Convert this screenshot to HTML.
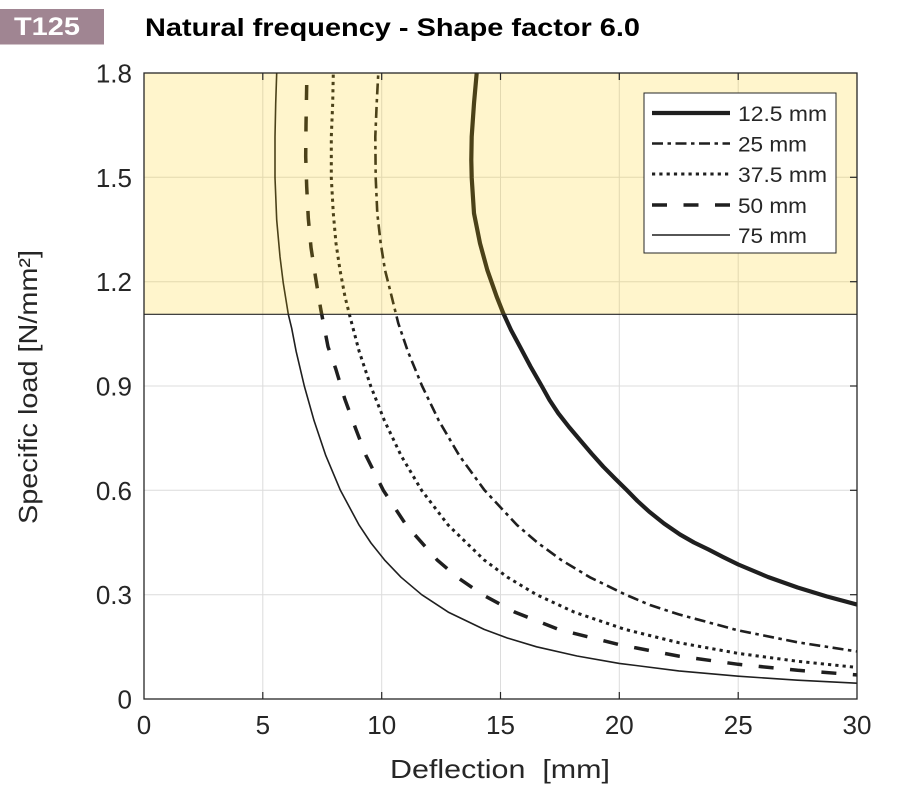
<!DOCTYPE html>
<html>
<head>
<meta charset="utf-8">
<style>
  html, body { margin: 0; padding: 0; background: #ffffff; }
  svg { display: block; }
  text { font-family: "Liberation Sans", Arial, sans-serif; fill: #262626; }
</style>
</head>
<body>
<svg width="920" height="800" viewBox="0 0 920 800" xmlns="http://www.w3.org/2000/svg">
  <defs>
    <clipPath id="plot">
      <rect x="144" y="73" width="713" height="626"/>
    </clipPath>
  </defs>

  <!-- Badge -->
  <rect x="0" y="9" width="104" height="35.5" fill="#a08592"/>
  <text x="14" y="35" font-size="25" font-weight="bold" style="fill:#ffffff" textLength="66" lengthAdjust="spacingAndGlyphs">T125</text>

  <!-- Title -->
  <text x="145" y="36" font-size="25" font-weight="bold" style="fill:#000000" textLength="495" lengthAdjust="spacingAndGlyphs">Natural frequency - Shape factor 6.0</text>

  <!-- Plot background -->
  <rect x="144" y="73" width="713" height="626" fill="#ffffff"/>

  <!-- Grid -->
  <g stroke="#dcdcdc" stroke-width="1">
    <line x1="262.8" y1="73" x2="262.8" y2="699"/>
    <line x1="381.7" y1="73" x2="381.7" y2="699"/>
    <line x1="500.5" y1="73" x2="500.5" y2="699"/>
    <line x1="619.3" y1="73" x2="619.3" y2="699"/>
    <line x1="738.2" y1="73" x2="738.2" y2="699"/>
    <line x1="144" y1="177.3" x2="857" y2="177.3"/>
    <line x1="144" y1="281.7" x2="857" y2="281.7"/>
    <line x1="144" y1="386" x2="857" y2="386"/>
    <line x1="144" y1="490.3" x2="857" y2="490.3"/>
    <line x1="144" y1="594.7" x2="857" y2="594.7"/>
  </g>

  <!-- Curves -->
  <g clip-path="url(#plot)" fill="none" stroke="#1f1f1f" stroke-linejoin="round">
    <!-- 12.5 mm -->
    <polyline stroke-width="4.2" points="477.5,60 476.7,73 474,103.3 471.7,136.7 471.3,160 471.7,177.7 474,213.3 480,243.3 487.3,270 496.7,296.7 503.3,313.3 511,330 520,346.7 530.5,366.5 541.7,386 549.5,400 558.3,413.3 569,427 580,440 591.5,453.5 603.3,466.7 615,478.5 626.7,490 637.5,501 649,511.5 664,523.5 680,534.5 694,542.5 708.5,549.5 723,557 738.3,564.5 768,577 797.6,587.5 827,596.5 856.7,604.5 862,605.8"/>
    <!-- 25 mm -->
    <polyline stroke-width="2.6" stroke-dasharray="11 4.5 3.5 4.5" points="379,60 378.3,73 376.7,103.3 375.3,136.7 375.7,177.7 377.3,213.3 380.7,243.3 385,270 391.7,296.7 398.3,323.3 407.8,351.2 422.1,386 438.9,420.8 459.3,455.6 484.6,490.3 517.1,525.1 537.3,542.5 561.1,559.9 589.9,577.3 625.7,594.7 650,605 678.8,614.4 738.2,630.4 797.6,642.3 856.7,651.4 862,652.2"/>
    <!-- 37.5 mm -->
    <polyline stroke-width="3" stroke-dasharray="3.2 4.1" points="333.5,60 333.3,73 332.7,103.3 331.3,136.7 331.3,177.7 333.3,213.3 336,243.3 340,270 345,296.7 350,316.7 359.1,351.2 370.7,386 384.5,420.8 401.1,455.6 421.6,490.3 448.2,525.1 484.1,559.9 507.6,577.3 536.6,594.7 574.2,612.1 625,629.4 678.8,642.7 738.2,653.4 797.6,661.3 856.7,667.4 862,667.9"/>
    <!-- 50 mm -->
    <polyline stroke-width="3.5" stroke-dasharray="15 16.5" stroke-dashoffset="6.5" points="306.7,60 306.7,73 306.7,85 306,125 305.7,156.7 306.7,186.7 308.3,218.3 311,247.5 315.7,278.3 320.7,309 328,346.7 335.8,369 344.8,399 355.8,429 366,455.6 383.3,490.3 406.2,525.1 437.1,559.9 457.3,577.3 482.5,594.7 514.8,612.1 558.5,629.4 619.3,644.7 678.8,656.1 738.2,664.3 797.6,670.3 856.7,674.9 862,675.3"/>
    <!-- 75 mm -->
    <polyline stroke-width="1.6" points="276.8,60 276.7,73 275.7,103.3 275,136.7 275,177.7 276.7,220 280,256.7 283.3,283.3 288.3,314.3 291.7,328.3 296.1,351.2 304.3,386 314.1,420.8 325.8,455.6 340.4,490.3 359.1,525.1 371,543 384.5,559.9 401.1,577.3 421.7,594.7 448.2,612.1 484.1,629.4 507.6,638.1 536.6,646.8 577,656 619.3,663.4 678.8,670.9 738.2,676.2 797.6,680.2 856.7,683.2 862,683.5"/>
  </g>

  <!-- Yellow band (semi-transparent overlay) -->
  <rect x="144" y="73" width="713" height="241.3" fill="rgb(255,204,0)" fill-opacity="0.2"/>
  <line x1="144" y1="314.3" x2="857" y2="314.3" stroke="#262626" stroke-width="1.2"/>

  <!-- Axes box -->
  <rect x="144" y="73" width="713" height="626" fill="none" stroke="#262626" stroke-width="1.3"/>

  <!-- Ticks -->
  <g stroke="#262626" stroke-width="1.2">
    <line x1="262.8" y1="699" x2="262.8" y2="692"/>
    <line x1="381.7" y1="699" x2="381.7" y2="692"/>
    <line x1="500.5" y1="699" x2="500.5" y2="692"/>
    <line x1="619.3" y1="699" x2="619.3" y2="692"/>
    <line x1="738.2" y1="699" x2="738.2" y2="692"/>
    <line x1="262.8" y1="73" x2="262.8" y2="80"/>
    <line x1="381.7" y1="73" x2="381.7" y2="80"/>
    <line x1="500.5" y1="73" x2="500.5" y2="80"/>
    <line x1="619.3" y1="73" x2="619.3" y2="80"/>
    <line x1="738.2" y1="73" x2="738.2" y2="80"/>
    <line x1="857" y1="177.3" x2="850" y2="177.3"/>
    <line x1="857" y1="281.7" x2="850" y2="281.7"/>
    <line x1="857" y1="386" x2="850" y2="386"/>
    <line x1="857" y1="490.3" x2="850" y2="490.3"/>
    <line x1="857" y1="594.7" x2="850" y2="594.7"/>
  </g>

  <!-- Legend -->
  <rect x="644" y="93" width="192" height="160" fill="#ffffff" stroke="#262626" stroke-width="1"/>
  <g fill="none" stroke="#1f1f1f">
    <line x1="652" y1="113" x2="730" y2="113" stroke-width="4.2"/>
    <line x1="652" y1="143.5" x2="730" y2="143.5" stroke-width="2.6" stroke-dasharray="11 4.5 3.5 4.5"/>
    <line x1="652" y1="174" x2="730" y2="174" stroke-width="3" stroke-dasharray="3.2 4.1"/>
    <line x1="652" y1="205" x2="730" y2="205" stroke-width="3.5" stroke-dasharray="15 16.5"/>
    <line x1="652" y1="235" x2="730" y2="235" stroke-width="1.6"/>
  </g>
  <g font-size="21.5">
    <text x="738" y="121" textLength="89" lengthAdjust="spacingAndGlyphs">12.5 mm</text>
    <text x="738" y="151.5" textLength="69" lengthAdjust="spacingAndGlyphs">25 mm</text>
    <text x="738" y="182" textLength="89" lengthAdjust="spacingAndGlyphs">37.5 mm</text>
    <text x="738" y="213" textLength="69" lengthAdjust="spacingAndGlyphs">50 mm</text>
    <text x="738" y="243" textLength="69" lengthAdjust="spacingAndGlyphs">75 mm</text>
  </g>

  <!-- Y tick labels -->
  <g font-size="26" text-anchor="end">
    <text x="132" y="82.5">1.8</text>
    <text x="132" y="186.8">1.5</text>
    <text x="132" y="291.2">1.2</text>
    <text x="132" y="395.5">0.9</text>
    <text x="132" y="499.8">0.6</text>
    <text x="132" y="604.2">0.3</text>
    <text x="132" y="708.5">0</text>
  </g>

  <!-- X tick labels -->
  <g font-size="26" text-anchor="middle">
    <text x="144" y="734">0</text>
    <text x="262.8" y="734">5</text>
    <text x="381.7" y="734">10</text>
    <text x="500.5" y="734">15</text>
    <text x="619.3" y="734">20</text>
    <text x="738.2" y="734">25</text>
    <text x="857" y="734">30</text>
  </g>

  <!-- Axis titles -->
  <text x="390" y="778" font-size="26" textLength="220" lengthAdjust="spacingAndGlyphs" xml:space="preserve">Deflection  [mm]</text>
  <text x="0" y="0" font-size="26" text-anchor="middle" transform="translate(37,387) rotate(-90)" textLength="274" lengthAdjust="spacingAndGlyphs">Specific load [N/mm²]</text>
</svg>
</body>
</html>
